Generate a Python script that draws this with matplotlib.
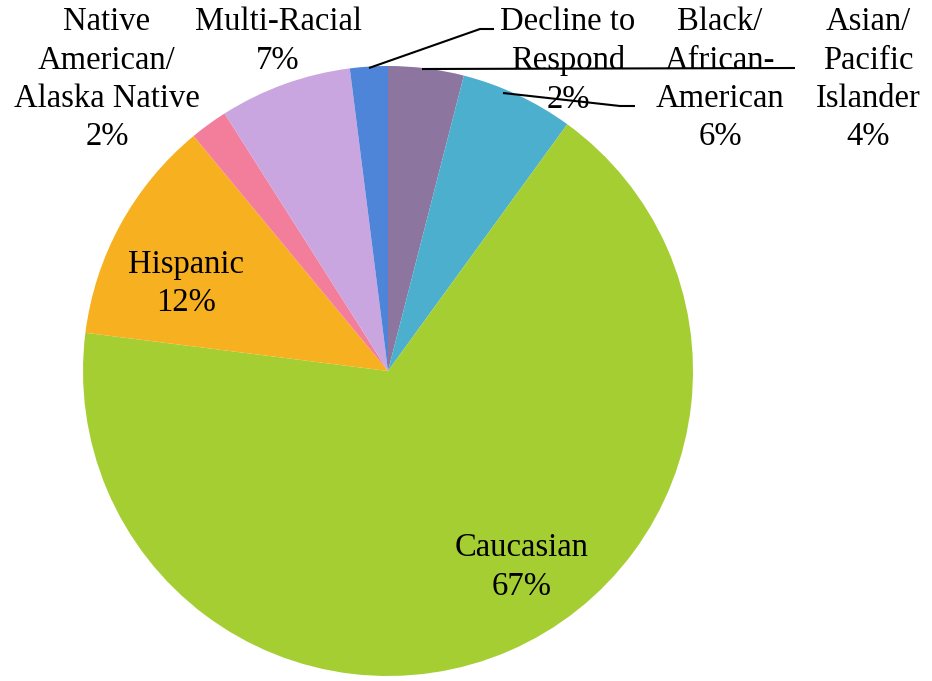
import matplotlib.pyplot as plt

# 数据
groups = ["Asian/\nPacific\nIslander", "Black/\nAfrican-\nAmerican", "Caucasian",
          "Hispanic", "Native\nAmerican/\nAlaska Native", "Multi-Racial",
          "Decline to\nRespond"]
shares = [4, 6, 67, 12, 2, 7, 2]
colors = ["#8C76A0", "#4BAFCD", "#A5CE33", "#F7B01F", "#F37E9B", "#CAA6E0", "#4E85D8"]

W, H = 932, 681
fig = plt.figure(figsize=(W / 100, H / 100), dpi=100)
ax = fig.add_axes([0, 0, 1, 1])

cx, cy, r = 388, H - 371, 305
ax.pie(shares, colors=colors, startangle=90, counterclock=False,
       center=(cx, cy), radius=r, wedgeprops=dict(linewidth=0), frame=True)
ax.set_xlim(0, W)
ax.set_ylim(0, H)
ax.set_aspect("equal")
ax.axis("off")

font = dict(family="Liberation Serif", fontsize=23.5, ha="center", va="top",
            linespacing=1.33, color="black")

# 标签位置（像素，y 从上往下）
label_pos = [(868, 7), (720, 7), (522, 533), (186, 249), (107, 7), (278, 7), (568, 7)]
for name, pct, (x, y) in zip(groups, shares, label_pos):
    ax.text(x, H - y, f"{name}\n{pct}%", **font)

# 引线
leaders = [
    [(422, 69), (795, 68)],
    [(503, 93), (620, 106), (635, 106)],
    [(369, 68), (480, 29), (494, 29)],
]
for pts in leaders:
    xs = [p[0] for p in pts]
    ys = [H - p[1] for p in pts]
    ax.plot(xs, ys, color="black", linewidth=1.5, solid_capstyle="butt")

fig.savefig("out.png", dpi=100)
